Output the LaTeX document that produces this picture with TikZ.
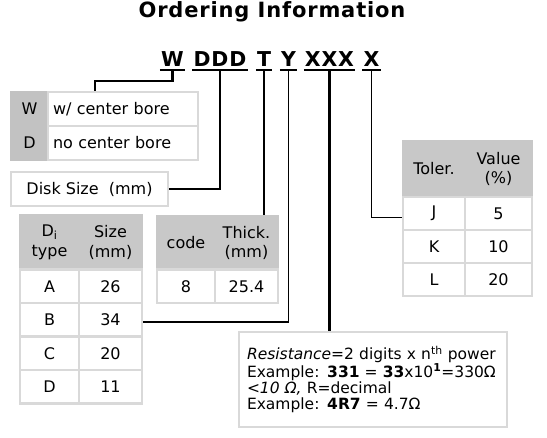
\documentclass[tikz,border=0pt]{standalone}
\usepackage{fontspec}
\setmainfont{DejaVu Sans}
\newfontfamily\titlefont[LetterSpace=4]{DejaVu Sans}
\newfontfamily\codefont[LetterSpace=4]{DejaVu Sans}
\definecolor{tline}{RGB}{217,217,217}
\definecolor{thead}{RGB}{200,200,200}
\definecolor{tlab}{RGB}{194,194,194}
\tikzset{
  cell/.style={draw=tline,line width=2.5pt,fill=white,inner sep=0pt,align=center,
    font=\fontsize{16}{19.5}\selectfont},
  hcell/.style={cell,draw=thead,fill=thead},
  lead/.style={line width=2.6pt},
  thinlead/.style={line width=1.5pt},
  uline/.style={line width=2pt},
  codeword/.style={anchor=base,inner xsep=1pt,inner ysep=0pt,
    font={\codefont\bfseries\fontsize{20.5}{24}\selectfont}}
}
\begin{document}
\begin{tikzpicture}[x=1pt,y=-1pt]
  \path[use as bounding box,fill=white] (0,0) rectangle (547,438);
  % Title
  \node[anchor=base,inner sep=0pt,font={\titlefont\bfseries\fontsize{21}{25}\selectfont}]
    (title) at (272,18) {Ordering Information};
  % Code letters
  \node[codeword] (w) at (172.5,66.5) {W};
  \node[codeword] (d) at (220,66.5) {DDD};
  \node[codeword] (t) at (264,66.5) {T};
  \node[codeword] (y) at (288.5,66.5) {Y};
  \node[codeword] (r) at (329.5,66.5) {XXX};
  \node[codeword] (x) at (371.5,66.5) {X};
  \foreach \n in {w,d,t,y,r,x}{
    \draw[uline] ([yshift=-3.5pt]\n.south west) -- ([yshift=-3.5pt]\n.south east);
    \coordinate (\n u) at ([yshift=-4.5pt]\n.south);
  }
  % W / D table
  \node[cell,draw=tlab,fill=tlab,minimum width=37,minimum height=68,
    font=\fontsize{16}{34}\selectfont] (wlab) at (29.5,126) {W\\D};
  \node[cell,minimum width=150,minimum height=34,text width=140,align=left,inner xsep=5pt]
    (wtop) at (123,109) {w/ center bore};
  \node[cell,minimum width=150,minimum height=34,text width=140,align=left,inner xsep=5pt]
    (wbot) at (123,143) {no center bore};
  % Disk size
  \node[cell,minimum width=157,minimum height=34] (disk) at (89.5,189) {Disk Size~ (mm)};
  % D_i table
  \node[hcell,minimum width=59,minimum height=55] (dh1) at (49.5,242.5) {D\textsubscript{i}\\type};
  \node[hcell,minimum width=63,minimum height=55] (dh2) at (110.5,242.5) {Size\\(mm)};
  \foreach \k/\v [count=\i] in {A/26,B/34,C/20,D/11}{
    \node[cell,minimum width=59,minimum height=33.5] (dt\i) at (49.5,253+33.5*\i) {\k};
    \node[cell,minimum width=63,minimum height=33.5] (ds\i) at (110.5,253+33.5*\i) {\v};
  }
  % Thickness table
  \node[hcell,minimum width=58,minimum height=54] (ch1) at (186,243) {code};
  \node[hcell,minimum width=63,minimum height=54] (ch2) at (246.5,243) {Thick.\\(mm)};
  \node[cell,minimum width=58,minimum height=33.5] (cr1) at (186,286.5) {8};
  \node[cell,minimum width=63,minimum height=33.5] (cr2) at (246.5,286.5) {25.4};
  % Tolerance table
  \node[hcell,minimum width=62,minimum height=56] (th1) at (434,169) {Toler.};
  \node[hcell,minimum width=67,minimum height=56] (th2) at (498.5,169) {Value\\(\%)};
  \foreach \k/\v [count=\i] in {J/5,K/10,L/20}{
    \node[cell,minimum width=62,minimum height=33] (tr\i) at (434,180.5+33*\i) {\k};
    \node[cell,minimum width=67,minimum height=33] (tv\i) at (498.5,180.5+33*\i) {\v};
  }
  % Resistance note
  \node[cell,minimum width=268,minimum height=95,text width=252,align=left,inner xsep=8pt,
    font=\fontsize{15.5}{16.3}\selectfont] (res) at (373,379.5)
    {\textit{Resistance}=2 digits x n\textsuperscript{th} power\\
     Example: \textbf{331} = \textbf{33}x10\textsuperscript{\textbf{1}}=330Ω\\
     \textit{<10 Ω,} R=decimal\\
     Example: \textbf{4R7} = 4.7Ω};
  % Leads
  \draw[lead] (wu) -- ++(0,10) -| ([xshift=-28pt]wtop.north);
  \draw[lead] (du) |- (disk.east);
  \draw[lead] (tu) -- (tu |- ch2.north);
  \draw[thinlead] (yu) |- ([yshift=-2pt]ds2.east);
  \draw[lead] (ru) -- (ru |- res.north);
  \draw[thinlead] (xu) |- ([yshift=-4pt]tr1.west);
\end{tikzpicture}
\end{document}
